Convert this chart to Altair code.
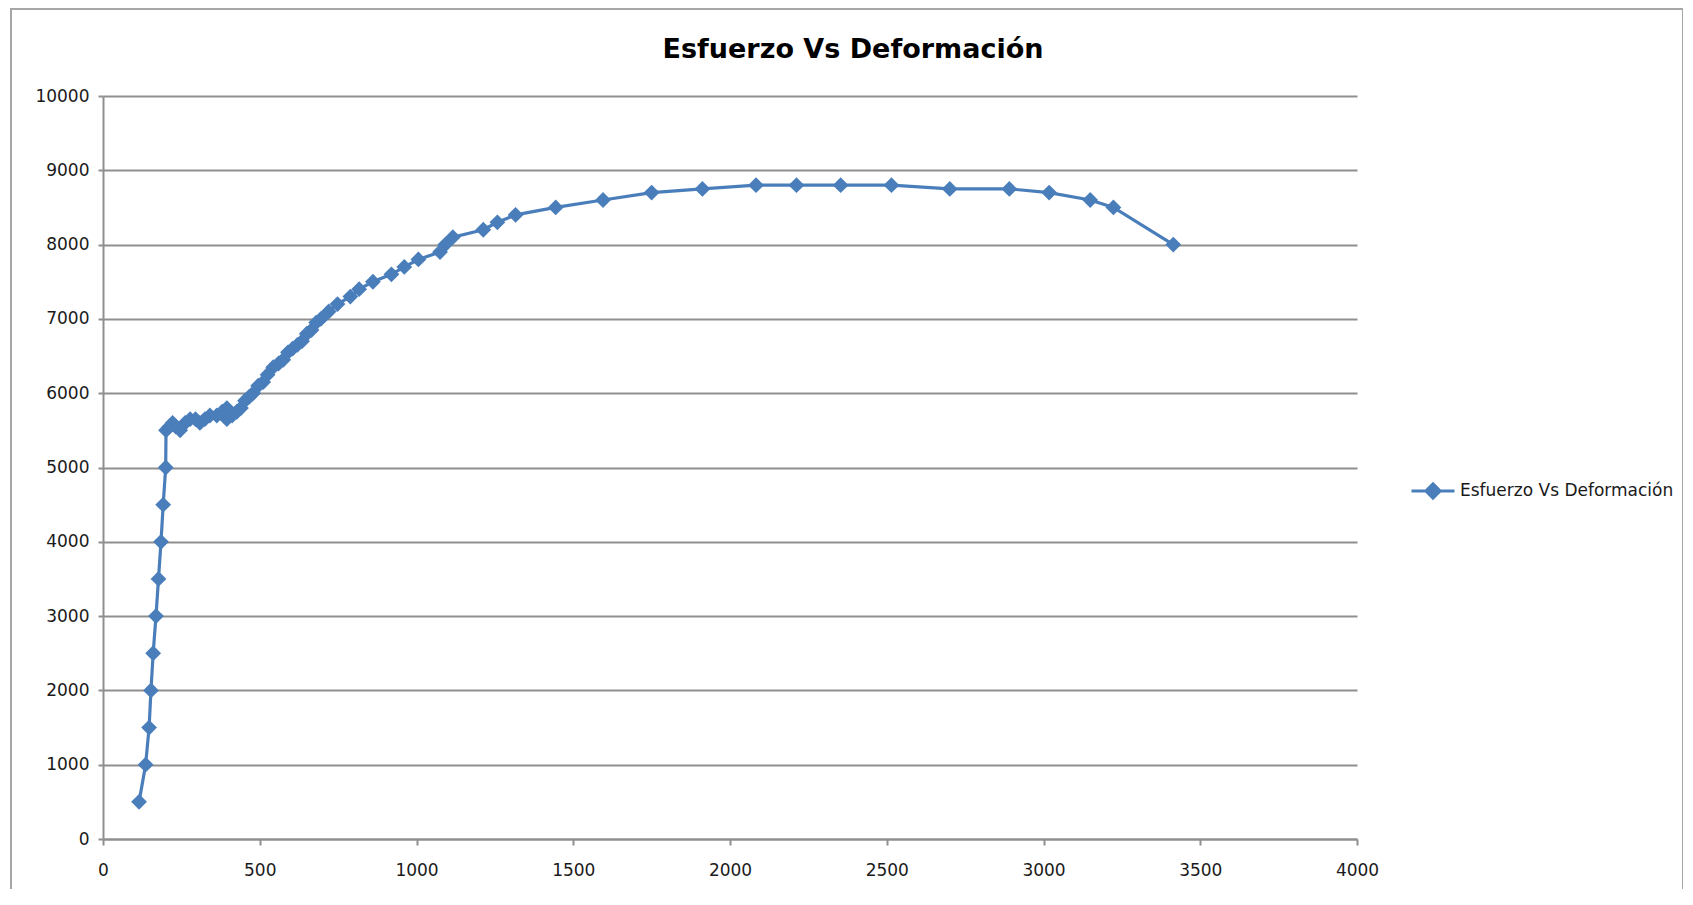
import altair as alt
import pandas as pd

serie = "Esfuerzo Vs Deformación"

deformacion = [115, 136, 147, 153, 160, 169, 177, 185, 192, 200,
               201, 212, 222, 232, 246, 262, 278, 295, 309, 325,
               341, 363, 380, 395, 395, 412, 427, 440, 453, 466,
               479, 495, 511, 525, 543, 560, 575, 590, 605, 620,
               635, 650, 665, 680, 695, 720, 748, 789, 817, 861,
               920, 961, 1006, 1075, 1092, 1116, 1213, 1258, 1316, 1444,
               1595, 1750, 1912, 2083, 2212, 2353, 2515, 2701, 2891, 3018,
               3149, 3223, 3414]
esfuerzo = [500, 1000, 1500, 2000, 2500, 3000, 3500, 4000, 4500, 5000,
            5500, 5550, 5600, 5550, 5500, 5600, 5650, 5650, 5600, 5650,
            5700, 5700, 5750, 5800, 5650, 5700, 5750, 5800, 5900, 5950,
            6000, 6100, 6150, 6250, 6350, 6400, 6450, 6550, 6600, 6650,
            6700, 6800, 6850, 6950, 7000, 7100, 7200, 7300, 7400, 7500,
            7600, 7700, 7800, 7900, 8000, 8100, 8200, 8300, 8400, 8500,
            8600, 8700, 8750, 8800, 8800, 8800, 8800, 8750, 8750, 8700,
            8600, 8500, 8000]

x_ticks = [0, 500, 1000, 1500, 2000, 2500, 3000, 3500, 4000]
y_ticks = [0, 1000, 2000, 3000, 4000, 5000, 6000, 7000, 8000, 9000, 10000]

df = pd.DataFrame({
    "Deformacion": deformacion,
    "Esfuerzo": esfuerzo,
    "idx": list(range(len(deformacion))),
    "serie": [serie] * len(deformacion),
})

BLUE = "#4a7ebb"
GRID = "#8f8f8f"
FONT = "DejaVu Sans"
LABEL = "#1a1a1a"

legend_symbol = "M-1,0L1,0M0,-0.33L0.33,0L0,0.33L-0.33,0Z"

common_axis = dict(
    title=None, labelOverlap=False, format="d",
    domainColor=GRID, domainWidth=2, tickColor=GRID, tickWidth=2,
    gridColor=GRID, gridWidth=2,
    labelFont=FONT, labelFontSize=17, labelColor=LABEL,
)

line = alt.Chart(df).mark_line(
    strokeWidth=3.2,
    point=alt.OverlayMarkDef(shape="diamond", size=250, filled=True, color=BLUE),
).encode(
    x=alt.X("Deformacion:Q",
            scale=alt.Scale(domain=[0, 4000], nice=False, zero=True),
            axis=alt.Axis(values=x_ticks, grid=False, labelFlush=False,
                          tickSize=6, labelPadding=17, **common_axis)),
    y=alt.Y("Esfuerzo:Q",
            scale=alt.Scale(domain=[0, 10000], nice=False),
            axis=alt.Axis(values=y_ticks, grid=True, tickSize=5,
                          labelPadding=9, **common_axis)),
    order=alt.Order("idx:Q"),
    color=alt.Color("serie:N", scale=alt.Scale(range=[BLUE]),
                    legend=alt.Legend(orient="none", legendX=1307, legendY=372,
                                      title=None, symbolType=legend_symbol,
                                      symbolSize=1849, symbolStrokeWidth=3,
                                      symbolFillColor=BLUE, symbolStrokeColor=BLUE,
                                      labelFont=FONT, labelFontSize=17,
                                      labelLimit=500,
                                      labelColor=LABEL, labelOffset=4)),
)

frame = alt.Chart(alt.Data(values=[{}])).mark_rect(
    fill=None, fillOpacity=0, stroke="#a6a6a6", strokeWidth=2
).encode(
    x=alt.value(-92), x2=alt.value(1580),
    y=alt.value(-87), y2=alt.value(900),
)

chart = alt.layer(frame, line).properties(
    width=1254,
    height=743,
    padding={"left": 95, "top": 88, "right": 326, "bottom": 50},
    autosize=alt.AutoSizeParams(type="none"),
    background="white",
    title=alt.TitleParams(serie, font=FONT, fontSize=27, fontWeight="bold",
                          color="#000000", anchor="middle", frame="group",
                          dx=123, offset=-77, baseline="alphabetic"),
).configure_view(
    strokeWidth=0
)

chart.save("out.html", embed_options={"renderer": "svg", "actions": False})
